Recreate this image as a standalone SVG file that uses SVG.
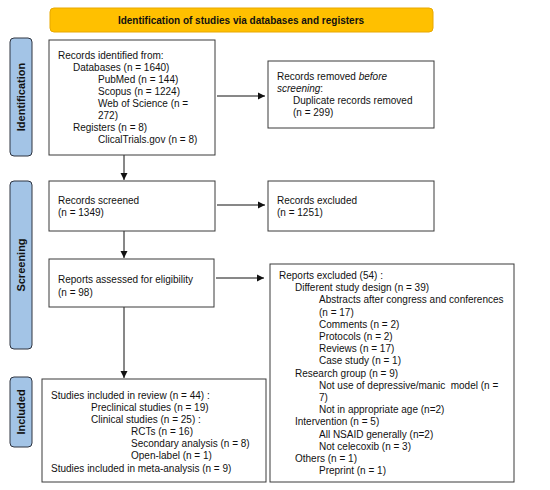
<svg xmlns="http://www.w3.org/2000/svg" width="550" height="490" viewBox="0 0 550 490">
<style>
.box{fill:#fff;stroke:#3a3a3a;stroke-width:1}
.side{fill:#A3C4E6;stroke:#2E3440;stroke-width:1}
.t{font-family:"Liberation Sans",Arial,sans-serif;font-size:10px;fill:#111}
.b{font-family:"Liberation Sans",Arial,sans-serif;font-size:10px;font-weight:bold;fill:#111}
.s{font-family:"Liberation Sans",Arial,sans-serif;font-size:11px;font-weight:bold;fill:#111}
.c{stroke:#111;stroke-width:1;fill:none}
</style>
<defs>
<marker id="ah" markerWidth="8" markerHeight="8" refX="7" refY="4" orient="auto" markerUnits="userSpaceOnUse">
<path d="M0,0.5 L7,4 L0,7.5 Z" fill="#111"/>
</marker>
</defs>
<rect width="550" height="490" fill="#fff"/>
<g id="banner">
<rect x="50" y="8" width="383" height="24" rx="4" fill="#FFC000" stroke="#E8A800"/>
<text class="b" x="241" y="23.5" text-anchor="middle">Identification of studies via databases and registers</text>
</g>
<g id="side-identification">
<rect class="side" x="10" y="38" width="22" height="118" rx="4"/>
<text class="s" transform="translate(25,97) rotate(-90)" text-anchor="middle">Identification</text>
</g>
<g id="side-screening">
<rect class="side" x="10" y="181" width="22" height="168" rx="4"/>
<text class="s" transform="translate(25,265) rotate(-90)" text-anchor="middle">Screening</text>
</g>
<g id="side-included">
<rect class="side" x="10" y="377" width="22" height="70" rx="4"/>
<text class="s" transform="translate(25,412) rotate(-90)" text-anchor="middle">Included</text>
</g>
<g id="connectors">
<line class="c" x1="217" y1="96" x2="265" y2="96" marker-end="url(#ah)"/>
<line class="c" x1="124" y1="155" x2="124" y2="180" marker-end="url(#ah)"/>
<line class="c" x1="217" y1="205" x2="265" y2="205" marker-end="url(#ah)"/>
<line class="c" x1="124" y1="231" x2="124" y2="258" marker-end="url(#ah)"/>
<line class="c" x1="216" y1="278" x2="264" y2="278" marker-end="url(#ah)"/>
<line class="c" x1="124" y1="307" x2="124" y2="378" marker-end="url(#ah)"/>
</g>
<g id="records-identified">
<rect class="box" x="49" y="40" width="166" height="115"/>
<text class="t" x="58" y="59">Records identified from:</text>
<text class="t" x="73" y="71">Databases (n = 1640)</text>
<text class="t" x="98" y="83">PubMed (n = 144)</text>
<text class="t" x="98" y="95">Scopus (n = 1224)</text>
<text class="t" x="98" y="107">Web of Science (n =</text>
<text class="t" x="98" y="119">272)</text>
<text class="t" x="73" y="131">Registers (n = 8)</text>
<text class="t" x="98" y="143">ClicalTrials.gov (n = 8)</text>
</g>
<g id="records-removed">
<rect class="box" x="268" y="61" width="166" height="67"/>
<text class="t" x="277" y="80">Records removed <tspan font-style="italic">before</tspan></text>
<text class="t" x="277" y="92"><tspan font-style="italic">screening</tspan>:</text>
<text class="t" x="293" y="104">Duplicate records removed</text>
<text class="t" x="293" y="116">(n = 299)</text>
</g>
<g id="records-screened">
<rect class="box" x="49" y="181" width="166" height="50"/>
<text class="t" x="58" y="204">Records screened</text>
<text class="t" x="58" y="216">(n = 1349)</text>
</g>
<g id="records-excluded">
<rect class="box" x="268" y="181" width="166" height="50"/>
<text class="t" x="277" y="204">Records excluded</text>
<text class="t" x="277" y="216">(n = 1251)</text>
</g>
<g id="reports-assessed">
<rect class="box" x="49" y="259" width="165" height="48"/>
<text class="t" x="58" y="283">Reports assessed for eligibility</text>
<text class="t" x="58" y="296">(n = 98)</text>
</g>
<g id="reports-excluded">
<rect class="box" x="270" y="264" width="244" height="218"/>
<text class="t" x="279" y="279">Reports excluded (54) :</text>
<text class="t" x="295" y="291.2">Different study design (n = 39)</text>
<text class="t" x="319" y="303.4">Abstracts after congress and conferences</text>
<text class="t" x="319" y="315.6">(n = 17)</text>
<text class="t" x="319" y="327.8">Comments (n = 2)</text>
<text class="t" x="319" y="340">Protocols (n = 2)</text>
<text class="t" x="319" y="352.2">Reviews (n = 17)</text>
<text class="t" x="319" y="364.4">Case study (n = 1)</text>
<text class="t" x="295" y="376.6">Research group (n = 9)</text>
<text class="t" x="319" y="388.8" style="white-space:pre">Not use of depressive/manic  model (n =</text>
<text class="t" x="319" y="401">7)</text>
<text class="t" x="319" y="413.2">Not in appropriate age (n=2)</text>
<text class="t" x="295" y="425.4">Intervention (n = 5)</text>
<text class="t" x="319" y="437.6">All NSAID generally (n=2)</text>
<text class="t" x="319" y="449.8">Not celecoxib (n = 3)</text>
<text class="t" x="295" y="462">Others (n = 1)</text>
<text class="t" x="319" y="474.2">Preprint (n = 1)</text>
</g>
<g id="studies-included">
<rect class="box" x="42" y="379" width="224" height="103"/>
<text class="t" x="51" y="399">Studies included in review (n = 44) :</text>
<text class="t" x="91" y="411">Preclinical studies (n = 19)</text>
<text class="t" x="91" y="423">Clinical studies (n = 25) :</text>
<text class="t" x="131" y="435">RCTs (n = 16)</text>
<text class="t" x="131" y="447">Secondary analysis (n = 8)</text>
<text class="t" x="131" y="459">Open-label (n = 1)</text>
<text class="t" x="51" y="472">Studies included in meta-analysis (n = 9)</text>
</g>
</svg>
